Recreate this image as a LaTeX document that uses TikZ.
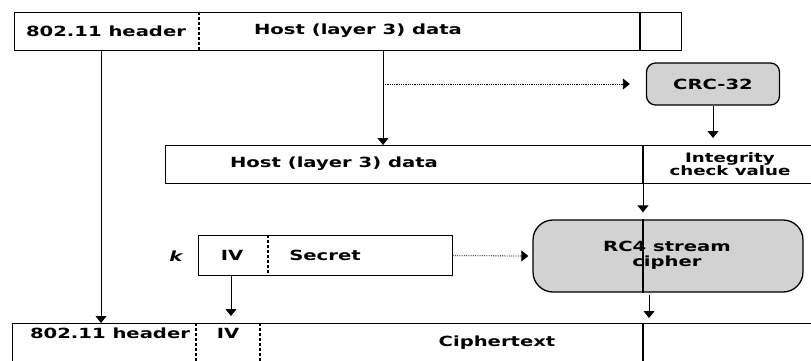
\documentclass[tikz,border=0pt]{standalone}
\usepackage{xcolor}
\usepackage{fontspec}
\setmainfont{DejaVu Sans}[FakeStretch=1.4]
\usepackage{tikz}
\usetikzlibrary{arrows.meta}

\tikzset{
  frame/.style={draw, line width=1.4pt, inner sep=0pt, anchor=north west},
  sep/.style={line width=1.8pt, dash pattern=on 3pt off 2pt},
  solidsep/.style={line width=1.8pt},
  lbl/.style={font=\bfseries\fontsize{14}{15}\selectfont, inner sep=0pt, align=center},
  flow/.style={line width=0.8pt, -{Triangle[width=11pt,length=7pt]}},
  tap/.style={line width=0.8pt},
  engine/.style={draw, line width=1.3pt, fill=gray!35, inner sep=0pt}
}

\begin{document}
\begin{tikzpicture}[x=1pt, y=-1pt]
\useasboundingbox (0,0) rectangle (811,361);
\clip (0,0) rectangle (811,361);
\fill[white] (0,0) rectangle (811,361);

\node[frame, minimum width=667, minimum height=38] (pktA) at (14,12) {};
\draw[sep] (199,12) -- (199,50);
\draw[solidsep, line width=1.2pt] (640,12) -- (640,50);
\node[lbl] (hdrA) at (106,31) {802.11 header};
\node[lbl] (dataA) at (358,31) {Host (layer 3) data};

\node[engine, rounded corners=9pt, minimum width=133, minimum height=42] (crc) at (713,84) {};
\node[lbl] at (crc) {CRC-32};

\node[frame, minimum width=665, minimum height=38] (pktB) at (165,145) {};
\draw[solidsep] (643,145) -- (643,183);
\node[lbl] (dataB) at (334,164) {Host (layer 3) data};
\node[lbl, font=\bfseries\fontsize{13}{12}\selectfont] (icvB) at (730,164) {Integrity\\check value};

\node[engine, rounded corners=20pt, minimum width=270, minimum height=72] (rc4) at (668,256) {};
\node[lbl] (rc4txt) at (667,255) {RC4 stream\\cipher};

\node[frame, minimum width=254, minimum height=40] (pktK) at (198,235) {};
\draw[sep] (268,235) -- (268,275);
\node[lbl, font=\bfseries\itshape\fontsize{14}{15}\selectfont] (keyK) at (176,256) {k};
\node[lbl] (ivK) at (232,255) {IV};
\node[lbl] (secK) at (325,255) {Secret};

\node[frame, minimum width=818, minimum height=60] (pktD) at (12,323) {};
\draw[sep] (196,323) -- (196,383);
\draw[sep] (260,323) -- (260,383);
\draw[tap, line width=1.2pt] (643,323) -- (643,383);
\node[lbl] (hdrD) at (110,333) {802.11 header};
\node[lbl] (ivD) at (228,333) {IV};
\node[lbl] (ctD) at (497,343) {Ciphertext};

\coordinate (tapHdr) at (101,50);
\coordinate (tapData) at (383,50);
\coordinate (tapIcv) at (643,183);
\coordinate (tapIv) at (231,275);
\coordinate (tapOut) at (649,295);

\draw[flow] (tapHdr) -- (tapHdr |- pktD.north);
\draw[flow] (tapData) -- (tapData |- pktB.north);
\draw[flow, densely dotted, shorten >=16pt] (tapData |- crc.west) -- (crc.west);
\draw[flow, shorten >=7pt] (crc.south) -- (crc.south |- pktB.north);
\draw[flow, shorten >=7pt] (tapIcv) -- (tapIcv |- rc4.north);
\draw[tap, line width=1.2pt] (tapIcv |- rc4.north) -- (tapIcv |- rc4.south);
\draw[flow, shorten >=5pt] (tapOut) -- (tapOut |- pktD.north);
\draw[flow, shorten >=7pt] (tapIv) -- (tapIv |- pktD.north);
\draw[flow, densely dotted, shorten >=4pt] (pktK.east) -- (rc4.west);
\end{tikzpicture}
\end{document}
